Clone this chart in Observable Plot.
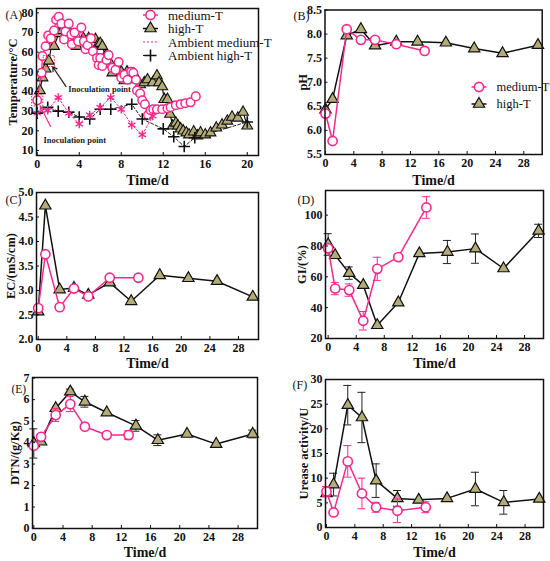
<!DOCTYPE html>
<html><head><meta charset="utf-8">
<script src="https://cdn.jsdelivr.net/npm/d3@7"></script>
<script src="https://cdn.jsdelivr.net/npm/@observablehq/plot@0.6"></script>
<style>
body{margin:0;background:#fff;}
#wrap{position:relative;width:550px;height:561px;overflow:hidden;background:#fff;}
#wrap svg{position:absolute;overflow:visible;}
</style></head><body><div id="wrap"></div>
<script>
const PINK = "#f5288c", OLIVE = "#b3ac78", RED = "#e8262a";
const FONT = "'Liberation Serif','Times New Roman',serif";

// ---------- (A) Temperature ----------
const tempMedDay = [0,0.4,0.5,0.8,1.05,1.3,1.6,1.8,2.05,2.3,2.55,2.7,3.0,3.25,3.3,3.55,3.9,4.2,4.45,4.6,4.8,5.1,5.3,5.7,5.85,6.0,6.2,6.6,6.8,7.15,7.45,7.75,8.0,8.3,8.6,8.95,9.15,9.4,9.5,9.8,10.0,10.25,10.55,10.8,11.05,11.4,11.9,12.4,12.7,13.2,13.65,14.1,14.6,15.1];
const tempMed    = [35.5,49.5,58,63,68.5,67,71,76.5,78,74.5,66.5,70.5,74.5,69,64,70,65.5,72.5,65.5,61.5,63.5,67,60.5,57,53.5,57,53,56,58.5,52,51,55,47,48.5,46,50,49.5,46,40.5,39,35.5,33.5,28,30.5,31,31,31,31.5,32,33,33.5,34,34.5,37.5];
const tempHighDay = [0.25,0.5,0.8,1.1,1.35,1.6,2.05,2.4,2.85,3.2,3.75,4.4,4.9,5.55,5.8,6.0,6.2,6.5,7.0,7.15,7.5,8.0,8.3,8.55,8.85,9.2,9.4,9.8,10.2,10.5,11.0,11.4,11.6,11.9,12.1,12.4,12.65,12.9,13.2,13.4,13.65,13.9,14.2,14.45,14.9,15.25,15.55,16.0,16.5,17.05,17.6,18.1,18.55,19.1,19.6,20.0];
const tempHigh    = [40.5,47,51.5,55.5,63,63,69.5,71,70.5,69,63,67,67,66.5,64,64.5,63,58,54,49.5,53,50,45.5,50,48,49,46,43.5,44.5,46,44.5,48,44.5,42.5,36,36,28.5,22.5,24,22.5,21,20,19,18,19.5,17.5,19,18,19,21.5,23,25,27,26.5,29.5,22.5];
const ambMedDay = [0,1,2,3,4,5,6,7,8,9,10,11];
const ambMed    = [29,30.5,37,29,23.5,28,32,37,31,23,18,27.5];
const ambHighDay = [0,1,2,3,4,5,6,7,9,10,12,13,14,15,20];
const ambHigh    = [29,32,30,29.5,27,26,31,31,33.5,26,21,17,12,16.5,24.5];
const inocPoints = [{day:0, temp:35.5}, {day:1.1, temp:55.5}];
const inocArrows = [
  {x1:2.75, y1:42.5, x2:1.1, y2:55.5, color:"#222"},
  {x1:1.27, y1:22.2, x2:0, y2:35.5, color:PINK}
];
const inocLabels = [{day:2.95, temp:41, text:"Inoculation point"}, {day:0.6, temp:15.4, text:"Inoculation point"}];
const legendA = ["medium-T","high-T","Ambient medium-T","Ambient high-T"];
const legendB = ["medium-T","high-T"];

// ---------- (B)-(F) ----------
const dayMed  = [0,1,3,5,7,10,14];
const dayHigh = [0,1,3,5,7,10,13,17,21,25,30];
const pHMed  = [6.35,5.78,8.1,7.88,7.88,7.79,7.65];
const pHHigh = [6.43,6.65,7.97,8.1,7.76,7.84,7.84,7.82,7.7,7.6,7.77];
const ecMed  = [2.64,3.74,2.66,3.04,2.88,3.26,3.26];
const ecHigh = [2.57,4.73,3.02,3.05,2.91,3.16,2.78,3.31,3.25,3.19,2.87];
const giMed     = [78.5,52.4,51.4,31.5,65.2,72.8,105];
const giMedErr  = [2,4,4,6,7.5,0,7];
const giHigh    = [81,74,62.4,54.6,28.6,43.3,75.2,76.1,78.3,65.4,89.8];
const giHighErr = [7,0,4,0,0,0,0,7.5,9.5,0,4.3];
const dtnDayMed  = [0,1,3,5,7,10,13];
const dtnDayHigh = [0,1,3,5,7,10,14,17,21,25,30];
const dtnMed     = [3.85,4.27,5.28,5.79,4.74,4.35,4.35];
const dtnMedErr  = [0,0,0.3,0.35,0,0,0.2];
const dtnHigh    = [3.96,4.04,5.6,6.37,5.9,5.4,4.78,4.11,4.4,3.93,4.4];
const dtnHighErr = [0.68,0,0,0.12,0.25,0,0.25,0.25,0,0,0.18];
const ureMed     = [7.3,3.05,13.4,6.9,4.1,3.4,4.1];
const ureMedErr  = [1,0,3.2,3.1,1,2.4,1.1];
const ureHigh    = [6.9,8.7,24.8,22.3,9.5,5.9,5.6,5.9,7.8,5.1,5.8];
const ureHighErr = [0,2.3,4.0,5.1,3.4,1.6,0,0,3.4,2.4,0];

const xTicks20 = [0,4,8,12,16,20];
const xTicks28 = [0,4,8,12,16,20,24,28];

const zip = (xs, ys, es) => xs.map((x,i) => ({x, y: ys[i], e: es ? es[i] : 0}));

function errMarks(data, color) {
  const d = data.filter(p => p.e > 0);
  return [
    Plot.ruleX(d, {x:"x", y1: p => p.y - p.e, y2: p => p.y + p.e, stroke: color, strokeWidth: 1}),
    Plot.ruleY(d, {y: p => p.y + p.e, x1:"x", x2:"x", insetLeft:-4, insetRight:-4, stroke: color, strokeWidth: 1}),
    Plot.ruleY(d, {y: p => p.y - p.e, x1:"x", x2:"x", insetLeft:-4, insetRight:-4, stroke: color, strokeWidth: 1})
  ];
}
function seriesMarks(med, high) {
  return [
    ...errMarks(high, "#222"),
    Plot.line(high, {x:"x", y:"y", stroke:"#111", strokeWidth:1.5}),
    Plot.dot(high, {x:"x", y:"y", symbol:"triangle", r:4.2, fill:OLIVE, stroke:"#111", strokeWidth:1.2}),
    ...errMarks(med, PINK),
    Plot.line(med, {x:"x", y:"y", stroke:PINK, strokeWidth:1.5}),
    Plot.dot(med, {x:"x", y:"y", symbol:"circle", r:4.6, fill:"white", stroke:PINK, strokeWidth:1.6})
  ];
}

// legend drawn as a render function (pixel offsets from frame top-left)
function legendMark(names, kinds, mL, mT, lx, ty, gap, fs) {
  return () => {
    const g = d3.create("svg:g").attr("font-family", FONT).attr("font-size", fs);
    names.forEach((name, i) => {
      const y = mT + ty + i * gap, x0 = mL + lx, x1 = x0 + 15, xm = x0 + 7.5;
      const k = kinds[i];
      g.append("line").attr("x1", x0).attr("x2", x1).attr("y1", y).attr("y2", y)
        .attr("stroke", k.color).attr("stroke-width", k.dash ? 1.2 : 1.5)
        .attr("stroke-dasharray", k.dash || null);
      if (k.sym === "circle") g.append("circle").attr("cx", xm).attr("cy", y).attr("r", 4.6)
        .attr("fill", "white").attr("stroke", PINK).attr("stroke-width", 1.6);
      if (k.sym === "triangle") g.append("path").attr("transform", `translate(${xm},${y})`)
        .attr("d", d3.symbol(d3.symbolTriangle, 4.2*4.2*Math.PI)()).attr("fill", OLIVE).attr("stroke", "#111").attr("stroke-width", 1.2);
      if (k.sym === "plus") g.append("path").attr("transform", `translate(${xm},${y})`)
        .attr("d", d3.symbol(d3.symbolPlus, 4*4*Math.PI)()).attr("fill", "none").attr("stroke", "#111").attr("stroke-width", 1.6);
      g.append("text").attr("x", x1 + 10).attr("y", y).attr("dy", "0.35em")
        .attr("text-anchor", "start").attr("fill", "#111").text(name);
    });
    return g.node();
  };
}

function panel(cfg) {
  const W = 275, H = 187;
  const fw = W - cfg.mL - cfg.mR, fh = H - cfg.mT - cfg.mB;
  const txt = {fontFamily: FONT, fill: "#111"};
  const p = Plot.plot({
    width: W, height: H,
    marginLeft: cfg.mL, marginRight: cfg.mR, marginTop: cfg.mT, marginBottom: cfg.mB,
    style: {fontFamily: FONT, background: "transparent", overflow: "visible"},
    x: {domain: cfg.xDomain, label: null},
    y: {domain: cfg.yDomain, label: null},
    marks: [
      ...cfg.marks,
      Plot.tickX(cfg.xTicks, {x: d => d, insetTop: fh - 3, stroke: "#111", strokeWidth: 1}),
      Plot.tickY(cfg.yTicks, {y: d => d, insetRight: fw - 3, stroke: "#111", strokeWidth: 1}),
      Plot.axisX(cfg.xTicks, {anchor: "bottom", tickSize: 0, tickPadding: 4, fontSize: 12, fontWeight: "bold", fontFamily: FONT, fill: "#111"}),
      Plot.axisY(cfg.yTicks, {anchor: "left", tickSize: 0, tickPadding: 3, fontSize: 12, fontWeight: "bold", fontFamily: FONT, fill: "#111", tickFormat: cfg.yFmt}),
      Plot.frame({stroke: "#111", strokeWidth: 1.5}),
      Plot.text(["Time/d"], {...txt, frameAnchor: "bottom", dy: cfg.xLabDy, fontSize: 14, fontWeight: "bold", lineAnchor: "middle"}),
      Plot.text([cfg.yLabel], {...txt, frameAnchor: "left", dx: cfg.yLabDx, rotate: -90, fontSize: 12.5, fontWeight: "bold", lineAnchor: "middle", textAnchor: "middle"}),
      Plot.text([cfg.tag], {...txt, frameAnchor: "top-left", dx: cfg.tagDx, dy: cfg.tagDy, fontSize: cfg.tagFs || 12, textAnchor: "start", lineAnchor: "middle"}),
      ...(cfg.extra || [])
    ]
  });
  p.style.left = cfg.left + "px";
  p.style.top = cfg.top + "px";
  document.getElementById("wrap").appendChild(p);
}

const f1 = d3.format(".1f");

// (A)
const medA = zip(tempMedDay, tempMed), highA = zip(tempHighDay, tempHigh);
const ambMedA = zip(ambMedDay, ambMed), ambHighA = zip(ambHighDay, ambHigh);
panel({
  left: 0, top: 0, mL: 36, mR: 17, mT: 8, mB: 32,
  xDomain: [-0.07, 21.07], yDomain: [7.46, 82.2],
  xTicks: xTicks20, yTicks: [10,20,30,40,50,60,70,80], yFmt: d3.format("d"),
  yLabel: "Temperature/°C", yLabDx: -24, xLabDy: 25, tag: "(A)", tagDx: -31, tagDy: 7,
  marks: [
    Plot.line(ambHighA, {x:"x", y:"y", stroke:"#222", strokeWidth:1, strokeDasharray:"3,2"}),
    Plot.line(ambMedA, {x:"x", y:"y", stroke:PINK, strokeWidth:1, strokeDasharray:"2,2"}),
    Plot.line(highA, {x:"x", y:"y", stroke:"#111", strokeWidth:1.2}),
    Plot.dot(highA, {x:"x", y:"y", symbol:"triangle", r:4, fill:OLIVE, stroke:"#111", strokeWidth:1.1}),
    Plot.line(medA, {x:"x", y:"y", stroke:PINK, strokeWidth:1.2}),
    Plot.dot(medA, {x:"x", y:"y", symbol:"circle", r:4.3, fill:"white", stroke:PINK, strokeWidth:1.5}),
    Plot.dot(ambHighA, {x:"x", y:"y", symbol:"plus", r:3.8, stroke:"#111", strokeWidth:1.6}),
    Plot.dot(ambMedA, {x:"x", y:"y", symbol:"asterisk", r:4, stroke:PINK, strokeWidth:1.4}),
    Plot.dot(inocPoints, {x:"day", y:"temp", symbol:"square", r:6.3, fill:"none", stroke:RED, strokeWidth:1, strokeDasharray:"1.5,1.5"}),
    Plot.arrow(inocArrows, {x1:"x1", y1:"y1", x2:"x2", y2:"y2", stroke:"color", strokeWidth:1.2, headLength:6, insetEnd:7}),
    Plot.text(inocLabels, {x:"day", y:"temp", text:"text", textAnchor:"start", fontSize:8.5, fontWeight:"bold", fontFamily:FONT, fill:"#222"})
  ],
  extra: [legendMark(legendA, [
    {color:PINK, sym:"circle"}, {color:"#111", sym:"triangle"},
    {color:PINK, dash:"2,2"}, {color:"#111", dash:"3,2", sym:"plus"}], 36, 8, 107, 7, 13.5, 13)]
});

// (B)
panel({
  left: 275, top: 0, mL: 49.5, mR: 8.3, mT: 9.5, mB: 33,
  xDomain: [-0.07, 30.6], yDomain: [5.5, 8.5],
  xTicks: xTicks28, yTicks: [5.5,6,6.5,7,7.5,8,8.5], yFmt: f1,
  yLabel: "pH", yLabDx: -22.5, xLabDy: 26, tag: "(B)", tagDx: -31.5, tagDy: 6.5,
  marks: seriesMarks(zip(dayMed, pHMed), zip(dayHigh, pHHigh)),
  extra: [legendMark(legendB, [{color:PINK, sym:"circle"}, {color:"#111", sym:"triangle"}], 49.5, 9.5, 147, 77.5, 17, 12.5)]
});

// (C)
panel({
  left: 0, top: 187, mL: 36, mR: 17, mT: 5, mB: 35,
  xDomain: [-0.24, 30.8], yDomain: [2, 5],
  xTicks: xTicks28, yTicks: [2,2.5,3,3.5,4,4.5,5], yFmt: f1,
  yLabel: "EC/(mS/cm)", yLabDx: -26, xLabDy: 24, tag: "(C)", tagDx: -31, tagDy: 8,
  marks: seriesMarks(zip(dayMed, ecMed), zip(dayHigh, ecHigh))
});

// (D)
panel({
  left: 275, top: 187, mL: 50, mR: 7, mT: 3, mB: 36,
  xDomain: [-0.38, 30.7], yDomain: [20, 116],
  xTicks: xTicks28, yTicks: [20,40,60,80,100], yFmt: d3.format("d"),
  yLabel: "GI/(%)", yLabDx: -24, xLabDy: 25, tag: "(D)", tagDx: -28, tagDy: 10,
  marks: seriesMarks(zip(dayMed, giMed, giMedErr), zip(dayHigh, giHigh, giHighErr))
});

// (E)
panel({
  left: 0, top: 374, mL: 32, mR: 18, mT: 3, mB: 33,
  xDomain: [-0.18, 30.66], yDomain: [0, 7.03],
  xTicks: xTicks28, yTicks: [0,1,2,3,4,5,6,7], yFmt: d3.format("d"),
  yLabel: "DTN/(g/Kg)", yLabDx: -18, xLabDy: 24, tag: "(E)", tagDx: -21, tagDy: 12, tagFs: 11.5,
  marks: seriesMarks(zip(dtnDayMed, dtnMed, dtnMedErr), zip(dtnDayHigh, dtnHigh, dtnHighErr))
});

// (F)
panel({
  left: 275, top: 374, mL: 50, mR: 7, mT: 5, mB: 34,
  xDomain: [-0.14, 30.6], yDomain: [0, 30],
  xTicks: xTicks28, yTicks: [0,5,10,15,20,25,30], yFmt: d3.format("d"),
  yLabel: "Urease activity/U", yLabDx: -22, xLabDy: 25, tag: "(F)", tagDx: -33, tagDy: 6,
  marks: seriesMarks(zip(dayMed, ureMed, ureMedErr), zip(dayHigh, ureHigh, ureHighErr))
});
</script></body></html>
